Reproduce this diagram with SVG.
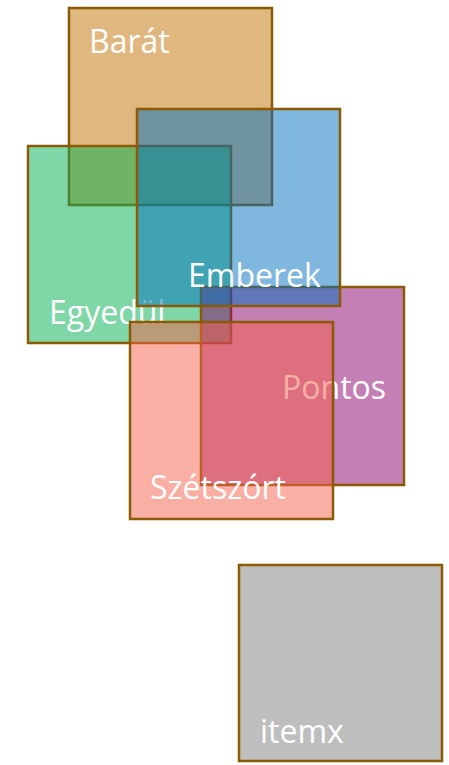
<svg xmlns="http://www.w3.org/2000/svg" width="449" height="765" viewBox="0 0 449 765">
<style>
.box{stroke:#8C5A05;stroke-width:2.5;fill-opacity:0.5}
.lbl{font-family:"Open Sans","Liberation Sans",sans-serif;font-size:32px;fill:#FFFFFF}
</style>
<rect width="449" height="765" fill="#FFFFFF"/>
<g id="connectors"/>
<g id="barat">
<rect class="box" x="69" y="8" width="203" height="197" fill="#C07000"/>
<text class="lbl" x="89" y="53">Barát</text>
</g>
<g id="egyedul">
<rect class="box" x="28" y="146" width="203" height="197" fill="#00B050"/>
<text class="lbl" x="49" y="324">Egyedül</text>
</g>
<g id="pontos">
<rect class="box" x="201" y="287" width="203" height="198" fill="#8A006A"/>
<text class="lbl" x="282" y="399">Pontos</text>
</g>
<g id="emberek">
<rect class="box" x="137" y="109" width="203" height="197" fill="#0070C0"/>
<text class="lbl" x="188" y="287">Emberek</text>
</g>
<g id="szetszort">
<rect class="box" x="130" y="322" width="203" height="197" fill="#F56049"/>
<text class="lbl" x="150" y="499">Szétszórt</text>
</g>
<g id="itemx">
<rect class="box" x="239" y="565" width="203" height="196" fill="#7D7D7D"/>
<text class="lbl" x="260" y="743">itemx</text>
</g>
</svg>
